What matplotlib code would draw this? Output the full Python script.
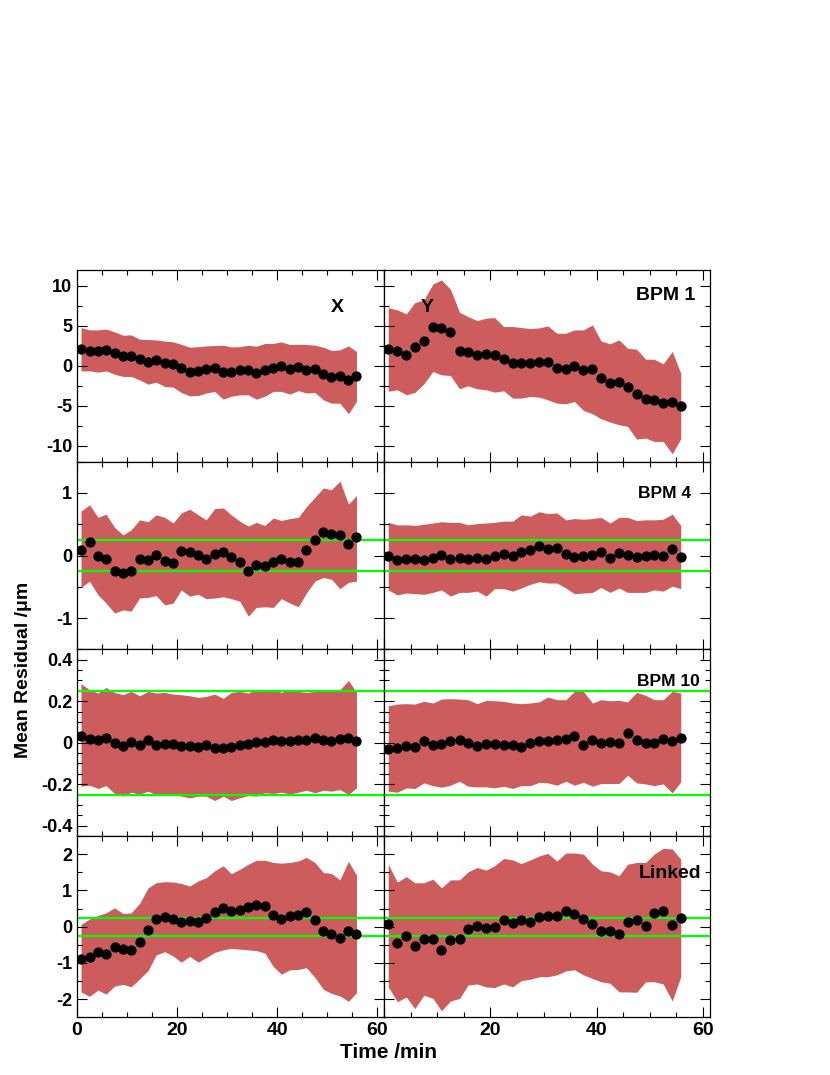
import matplotlib
matplotlib.use("Agg")
import matplotlib.pyplot as plt
from matplotlib.ticker import MultipleLocator, FuncFormatter

plt.rcParams['font.family'] = ['Liberation Sans', 'DejaVu Sans']
plt.rcParams['font.weight'] = 'bold'
plt.rcParams['axes.unicode_minus'] = False

# time of each measurement (min)
time_min = [0.8, 2.5, 4.2, 5.8, 7.5, 9.2, 10.8, 12.5, 14.2, 15.8, 17.5, 19.2,
            20.8, 22.5, 24.2, 25.8, 27.5, 29.2, 30.8, 32.5, 34.2, 35.8, 37.5,
            39.2, 40.8, 42.5, 44.2, 45.8, 47.5, 49.2, 50.8, 52.5, 54.2, 55.8]

# BPM 1
bpm1_x_mean = [2.08, 1.92, 1.88, 2.0, 1.58, 1.21, 1.29, 0.83, 0.54, 0.71, 0.38, 0.29,
               -0.33, -0.71, -0.67, -0.42, -0.29, -0.79, -0.75, -0.58, -0.5, -0.92,
               -0.54, -0.21, -0.08, -0.42, -0.17, -0.46, -0.42, -1.08, -1.42, -1.29,
               -1.79, -1.29]
bpm1_x_up = [4.79, 4.5, 4.5, 4.6, 4.25, 3.83, 3.88, 3.33, 3.3, 3.25, 3.1, 3.0, 2.7,
             2.33, 2.4, 2.5, 2.55, 2.58, 2.37, 2.4, 2.58, 2.46, 2.8, 2.8, 3.0, 2.67,
             2.7, 2.67, 2.58, 2.33, 1.92, 2.0, 2.5, 1.79]
bpm1_x_lo = [-0.63, -0.63, -0.79, -0.63, -1.04, -1.33, -1.33, -1.75, -2.29, -2.04,
             -2.58, -2.67, -3.33, -3.75, -3.71, -3.4, -3.2, -4.17, -3.8, -3.63, -3.63,
             -4.17, -3.8, -3.2, -3.2, -3.54, -3.1, -3.4, -3.33, -4.25, -4.67, -4.67,
             -6.0, -4.46]
bpm1_y_mean = [2.12, 1.92, 1.33, 2.33, 3.17, 4.92, 4.79, 4.25, 1.88, 1.79, 1.33, 1.54,
               1.33, 0.83, 0.33, 0.33, 0.38, 0.46, 0.54, -0.29, -0.38, 0.04, -0.54,
               -0.38, -1.54, -2.17, -2.0, -2.67, -3.5, -4.12, -4.29, -4.71, -4.58, -5.08]
bpm1_y_up = [7.29, 7.0, 6.5, 7.92, 8.25, 10.25, 10.75, 9.58, 6.7, 6.17, 5.67, 5.96,
             6.04, 4.92, 4.92, 4.79, 4.67, 4.75, 5.0, 4.08, 4.08, 4.5, 4.5, 5.12, 3.12,
             2.75, 3.25, 2.2, 2.08, 0.83, 0.83, 0.25, 1.79, -0.92]
bpm1_y_lo = [-3.17, -3.0, -3.62, -3.33, -2.25, -0.71, -1.12, -1.21, -2.87, -2.5, -2.87,
             -3.0, -3.29, -3.12, -4.04, -4.04, -3.83, -3.92, -4.25, -4.67, -4.75, -4.46,
             -5.58, -6.0, -6.62, -7.04, -7.37, -7.58, -9.17, -9.04, -9.46, -9.46, -11.0,
             -9.12]

# BPM 4
bpm4_x_mean = [0.09, 0.21, -0.01, -0.06, -0.25, -0.28, -0.25, -0.06, -0.07, 0.01, -0.09,
               -0.12, 0.07, 0.05, 0.01, -0.06, 0.03, 0.06, -0.02, -0.1, -0.25, -0.15,
               -0.17, -0.11, -0.06, -0.1, -0.1, 0.085, 0.25, 0.37, 0.34, 0.33, 0.19, 0.29]
bpm4_x_up = [0.71, 0.81, 0.61, 0.66, 0.45, 0.33, 0.41, 0.57, 0.54, 0.65, 0.61, 0.52,
             0.68, 0.74, 0.65, 0.57, 0.75, 0.76, 0.65, 0.55, 0.47, 0.53, 0.48, 0.6, 0.56,
             0.59, 0.61, 0.78, 0.93, 1.08, 1.05, 1.19, 0.82, 0.96]
bpm4_x_lo = [-0.51, -0.41, -0.63, -0.76, -0.92, -0.87, -0.89, -0.68, -0.67, -0.64, -0.79,
             -0.76, -0.55, -0.65, -0.62, -0.69, -0.68, -0.66, -0.69, -0.73, -0.97, -0.83,
             -0.82, -0.83, -0.69, -0.76, -0.82, -0.6, -0.41, -0.35, -0.38, -0.53, -0.43,
             -0.41]
bpm4_y_mean = [0.0, -0.07, -0.06, -0.06, -0.07, -0.04, 0.01, -0.06, -0.04, -0.06, -0.04,
               -0.06, 0.0, 0.02, 0.0, 0.06, 0.09, 0.15, 0.11, 0.12, 0.02, -0.02, -0.01,
               0.01, 0.05, -0.04, 0.04, 0.01, -0.02, -0.01, 0.01, 0.0, 0.1, -0.03]
bpm4_y_up = [0.53, 0.49, 0.49, 0.48, 0.5, 0.52, 0.54, 0.53, 0.53, 0.49, 0.51, 0.52, 0.53,
             0.55, 0.55, 0.65, 0.63, 0.70, 0.67, 0.68, 0.57, 0.59, 0.58, 0.59, 0.61,
             0.52, 0.61, 0.61, 0.56, 0.57, 0.57, 0.58, 0.66, 0.48]
bpm4_y_lo = [-0.55, -0.63, -0.6, -0.61, -0.62, -0.59, -0.55, -0.65, -0.59, -0.59, -0.57,
             -0.65, -0.53, -0.53, -0.57, -0.52, -0.46, -0.42, -0.44, -0.44, -0.52, -0.61,
             -0.6, -0.59, -0.51, -0.59, -0.52, -0.59, -0.59, -0.59, -0.55, -0.57, -0.49,
             -0.53]

# BPM 10
bpm10_x_mean = [0.034, 0.018, 0.011, 0.022, -0.002, -0.014, 0.002, -0.011, 0.011, -0.01,
                -0.005, -0.008, -0.016, -0.018, -0.022, -0.013, -0.024, -0.024, -0.022,
                -0.011, -0.005, 0.002, 0.003, 0.014, 0.008, 0.006, 0.013, 0.013, 0.022,
                0.011, 0.01, 0.018, 0.022, 0.006]
bpm10_x_up = [0.284, 0.255, 0.239, 0.266, 0.242, 0.231, 0.247, 0.226, 0.247, 0.239, 0.242,
              0.234, 0.231, 0.226, 0.218, 0.223, 0.234, 0.213, 0.242, 0.247, 0.239, 0.258,
              0.247, 0.258, 0.242, 0.255, 0.247, 0.242, 0.247, 0.247, 0.252, 0.255, 0.3,
              0.242]
bpm10_x_lo = [-0.21, -0.205, -0.221, -0.207, -0.245, -0.258, -0.239, -0.248, -0.234,
              -0.252, -0.255, -0.245, -0.258, -0.266, -0.258, -0.258, -0.279, -0.258,
              -0.279, -0.266, -0.255, -0.258, -0.242, -0.245, -0.239, -0.247, -0.239,
              -0.229, -0.242, -0.229, -0.234, -0.226, -0.25, -0.218]
bpm10_y_mean = [-0.029, -0.024, -0.018, -0.019, 0.01, -0.01, -0.006, 0.006, 0.013, -0.002,
                -0.018, -0.006, -0.008, -0.013, -0.013, -0.019, -0.003, 0.006, 0.01, 0.013,
                0.018, 0.034, -0.013, 0.011, 0.0, 0.005, 0.0, 0.045, 0.011, -0.002, 0.0,
                0.016, 0.006, 0.022]
bpm10_y_up = [0.178, 0.186, 0.188, 0.186, 0.199, 0.191, 0.21, 0.212, 0.21, 0.207, 0.188,
              0.204, 0.202, 0.199, 0.191, 0.188, 0.191, 0.197, 0.22, 0.207, 0.207, 0.247,
              0.247, 0.191, 0.207, 0.202, 0.204, 0.196, 0.242, 0.228, 0.207, 0.207, 0.247,
              0.239]
bpm10_y_lo = [-0.234, -0.239, -0.218, -0.221, -0.194, -0.207, -0.215, -0.205, -0.186,
              -0.21, -0.213, -0.213, -0.218, -0.21, -0.221, -0.207, -0.207, -0.191, -0.194,
              -0.205, -0.186, -0.205, -0.191, -0.21, -0.197, -0.197, -0.197, -0.157,
              -0.194, -0.199, -0.207, -0.199, -0.242, -0.189]

# Linked
linked_x_mean = [-0.89, -0.84, -0.69, -0.76, -0.55, -0.61, -0.64, -0.42, -0.08, 0.21,
                 0.27, 0.21, 0.12, 0.16, 0.14, 0.24, 0.41, 0.51, 0.43, 0.47, 0.54, 0.6,
                 0.56, 0.33, 0.21, 0.29, 0.31, 0.41, 0.17, -0.13, -0.19, -0.32, -0.11, -0.19]
linked_x_up = [0.06, 0.21, 0.31, 0.38, 0.52, 0.36, 0.38, 0.64, 1.07, 1.21, 1.24, 1.23,
               1.19, 1.12, 1.26, 1.35, 1.54, 1.68, 1.46, 1.58, 1.72, 1.83, 1.83, 1.77,
               1.75, 1.77, 1.81, 1.91, 1.77, 1.49, 1.47, 1.29, 1.8, 1.42]
linked_x_lo = [-1.8, -1.92, -1.75, -1.86, -1.64, -1.59, -1.66, -1.44, -1.21, -0.78, -0.69,
               -0.81, -0.98, -0.82, -0.98, -0.85, -0.71, -0.64, -0.6, -0.62, -0.64, -0.66,
               -0.73, -1.1, -1.31, -1.19, -1.18, -1.13, -1.4, -1.73, -1.84, -1.91, -2.06,
               -1.82]
linked_y_mean = [0.06, -0.44, -0.27, -0.52, -0.33, -0.33, -0.64, -0.36, -0.34, -0.06, 0.03,
                 -0.05, -0.01, 0.17, 0.09, 0.19, 0.13, 0.26, 0.3, 0.28, 0.43, 0.34, 0.22,
                 0.06, -0.11, -0.11, -0.2, 0.13, 0.17, 0.01, 0.38, 0.42, 0.04, 0.24]
linked_y_up = [1.72, 1.23, 1.38, 1.21, 1.21, 1.31, 1.07, 1.29, 1.29, 1.51, 1.63, 1.56,
               1.68, 1.88, 1.84, 1.74, 1.84, 1.95, 2.02, 1.81, 2.03, 2.03, 2.0, 1.72, 1.54,
               1.51, 1.4, 1.72, 1.77, 1.77, 2.0, 2.16, 2.14, 1.86]
linked_y_lo = [-1.66, -2.07, -1.94, -2.26, -1.89, -1.98, -2.32, -2.05, -1.98, -1.61,
               -1.58, -1.66, -1.68, -1.58, -1.66, -1.49, -1.45, -1.38, -1.38, -1.33, -1.22,
               -1.19, -1.33, -1.43, -1.52, -1.56, -1.8, -1.8, -1.81, -1.52, -1.52, -1.58,
               -2.05, -1.38]

row_names = ["BPM 1", "BPM 4", "BPM 10", "Linked"]
panels = [
    [(bpm1_x_mean, bpm1_x_lo, bpm1_x_up), (bpm1_y_mean, bpm1_y_lo, bpm1_y_up)],
    [(bpm4_x_mean, bpm4_x_lo, bpm4_x_up), (bpm4_y_mean, bpm4_y_lo, bpm4_y_up)],
    [(bpm10_x_mean, bpm10_x_lo, bpm10_x_up), (bpm10_y_mean, bpm10_y_lo, bpm10_y_up)],
    [(linked_x_mean, linked_x_lo, linked_x_up), (linked_y_mean, linked_y_lo, linked_y_up)],
]
y_half = [12, 1.5, 0.45, 2.5]
y_major = [5, 1, 0.2, 1]
y_minor = [2.5, 0.5, 0.05, 0.5]
tolerance = 0.25

W, H = 830, 1075
fig = plt.figure(figsize=(W / 100, H / 100), dpi=100)

cols_px = [(77, 384), (384, 710)]
rows_px = [(270, 461.7), (461.7, 649.3), (649.3, 836), (836, 1017.3)]

band_col = "#cd5c5c"
fmt = FuncFormatter(lambda v, p: "0" if abs(v) < 1e-9 else f"{round(v, 3):g}")

for r, (top, bot) in enumerate(rows_px):
    for c, (left, right) in enumerate(cols_px):
        ax = fig.add_axes([left / W, 1 - bot / H, (right - left) / W, (bot - top) / H])
        mean, lo, up = panels[r][c]
        ax.fill_between(time_min, lo, up, color=band_col, lw=0, zorder=1)
        if r > 0:
            ax.axhline(tolerance, color="#00ff00", lw=1.6, zorder=2)
            ax.axhline(-tolerance, color="#00ff00", lw=1.6, zorder=2)
        ax.plot(time_min, mean, "o", color="black", ms=6.4, zorder=3)

        ax.set_xlim(0, 61.3)
        ax.set_ylim(-y_half[r], y_half[r])
        ax.xaxis.set_major_locator(MultipleLocator(20))
        ax.xaxis.set_minor_locator(MultipleLocator(5))
        ax.yaxis.set_major_locator(MultipleLocator(y_major[r]))
        ax.yaxis.set_minor_locator(MultipleLocator(y_minor[r]))
        ax.yaxis.set_major_formatter(fmt)
        ax.xaxis.set_major_formatter(fmt)
        ax.tick_params(which="both", direction="in", top=True, right=True, width=0.8)
        ax.tick_params(axis="y", labelsize=13, pad=3.5)
        ax.tick_params(axis="x", labelsize=14, pad=3.5)
        ax.tick_params(which="major", length=7.2)
        ax.tick_params(which="minor", length=3.6)
        for s in ax.spines.values():
            s.set_linewidth(0.9)
        if c == 1:
            ax.tick_params(labelleft=False)
        if r < 3:
            ax.tick_params(labelbottom=False)
        elif c == 1:
            ax.xaxis.set_major_formatter(
                FuncFormatter(lambda v, p: "" if abs(v) < 1e-9 else f"{v:g}"))

# panel labels
fig.text(337 / W, 1 - 307 / H, "X", fontsize=14, ha="center", va="center")
fig.text(427 / W, 1 - 307 / H, "Y", fontsize=14, ha="center", va="center")
label_pos = [(695, 295, 14), (691, 493, 12.5), (700, 681, 12.5), (701, 873, 14)]
for name, (x, y, fs) in zip(row_names, label_pos):
    fig.text(x / W, 1 - y / H, name, fontsize=fs, ha="right", va="center")

fig.text(388 / W, 1 - 1052 / H, "Time /min", fontsize=15, ha="center", va="center")
fig.text(24 / W, 1 - 670 / H, "Mean Residual /\u03bcm", fontsize=14, ha="center",
         va="center", rotation=90)

fig.savefig("out.png", dpi=100)
